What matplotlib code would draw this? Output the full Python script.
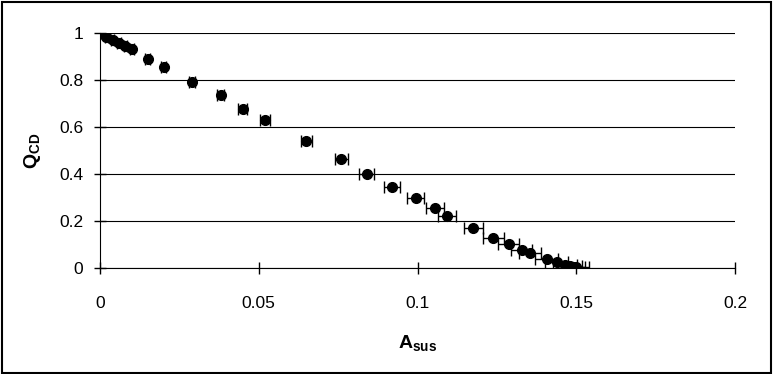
import matplotlib.pyplot as plt
import numpy as np

plt.rcParams['font.family'] = ['Liberation Sans', 'DejaVu Sans']
plt.rcParams['mathtext.fontset'] = 'custom'
plt.rcParams['mathtext.bf'] = 'Liberation Sans:bold'
plt.rcParams['mathtext.rm'] = 'Liberation Sans'

# Asus vs Qcd
a_sus = [0.0, 0.002, 0.004, 0.006, 0.008, 0.010, 0.015, 0.020, 0.029, 0.038,
         0.045, 0.052, 0.065, 0.076, 0.084, 0.092, 0.0995, 0.1055, 0.1092,
         0.1176, 0.1239, 0.1288, 0.1328, 0.1354, 0.1407, 0.1438, 0.1465,
         0.1480, 0.1490, 0.1500]
q_cd = [1.0, 0.985, 0.97, 0.957, 0.945, 0.93, 0.89, 0.855, 0.79, 0.735,
        0.675, 0.63, 0.54, 0.465, 0.40, 0.345, 0.30, 0.255, 0.2226,
        0.1715, 0.126, 0.1008, 0.0766, 0.0624, 0.037, 0.024, 0.0128,
        0.009, 0.006, 0.003]
a_err = [0.0003, 0.0004, 0.0004, 0.0005, 0.0005, 0.0006, 0.0007, 0.0008, 0.0010, 0.0012,
         0.0014, 0.0015, 0.0018, 0.0021, 0.0023, 0.0025, 0.0027, 0.0028, 0.0029,
         0.0031, 0.0032, 0.0033, 0.0034, 0.0035, 0.0036, 0.0037, 0.0038,
         0.0038, 0.0039, 0.0040]

fig = plt.figure(figsize=(7.73, 3.74), dpi=100)
ax = fig.add_axes([100/773, 1 - 268/374, 635/773, 235/374])

ax.errorbar(a_sus, q_cd, xerr=a_err, fmt='o', color='black', ms=7,
            ecolor='black', elinewidth=1, capsize=4.5, capthick=1, zorder=3)

ax.set_xlim(0, 0.2)
ax.set_ylim(0, 1)
ax.set_xticks([0, 0.05, 0.1, 0.15, 0.2])
ax.set_xticklabels(['0', '0.05', '0.1', '0.15', '0.2'])
ax.set_yticks([0, 0.2, 0.4, 0.6, 0.8, 1])
ax.set_yticklabels(['0', '0.2', '0.4', '0.6', '0.8', '1'])
ax.yaxis.grid(True, color='black', lw=0.8)
ax.set_axisbelow(True)
for s in ['top', 'right']:
    ax.spines[s].set_visible(False)
ax.tick_params(direction='inout', length=8, width=1, labelsize=12.5, pad=8)
ax.tick_params(axis='x', pad=16)

ax.set_xlabel(r'$\mathbf{A_{sus}}$', fontsize=14, labelpad=16)
ax.set_ylabel(r'$\mathbf{Q_{CD}}$', fontsize=14, labelpad=12)

fig.patches.append(plt.Rectangle((0.003, 0.004), 0.994, 0.99, transform=fig.transFigure,
                                 fill=False, edgecolor='black', lw=1.5))

fig.savefig('out.png', dpi=100)
